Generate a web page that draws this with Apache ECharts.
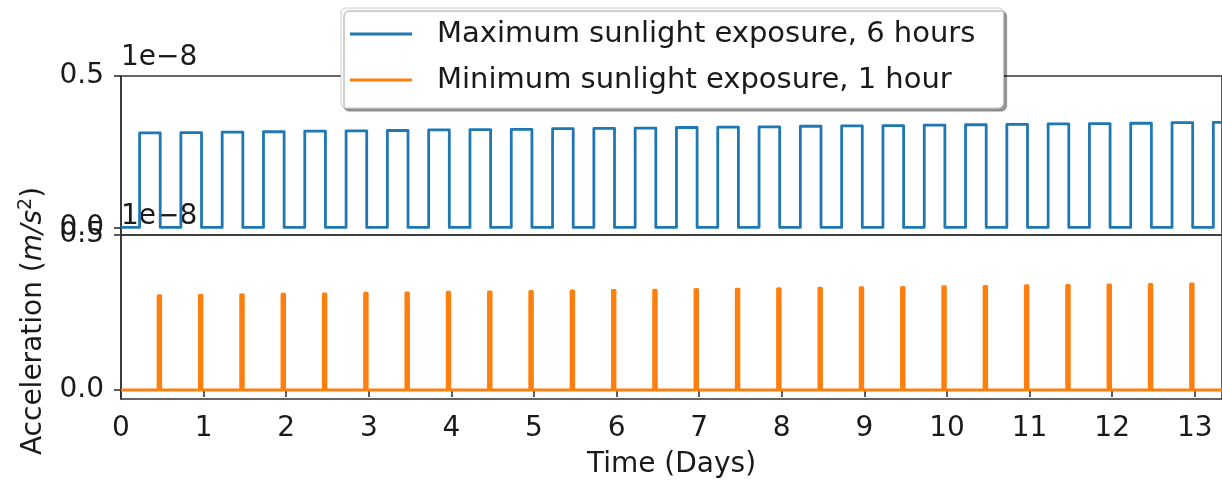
<!DOCTYPE html>
<html>
<head>
<meta charset="utf-8">
<script src="https://cdn.jsdelivr.net/npm/echarts@6/dist/echarts.min.js"></script>
<style>
    html, body { margin: 0; padding: 0; background: #fff; }
    #myChart { width: 1222px; height: 481px; }
</style>
</head>
<body>
<div id="myChart"></div>
<script>
    // 读图得到的数据：脉冲开始时间（天）和幅值（单位 1e-8 m/s^2）
    const seriesNames = ['Maximum sunlight exposure, 6 hours', 'Minimum sunlight exposure, 1 hour'];
    const maxOnTimes = [0.225, 0.725, 1.225, 1.725, 2.225, 2.725, 3.225, 3.725, 4.225, 4.725,
        5.225, 5.725, 6.225, 6.725, 7.225, 7.725, 8.225, 8.725, 9.225, 9.725,
        10.225, 10.725, 11.225, 11.725, 12.225, 12.725, 13.225];
    const maxHeights = [0.312, 0.313, 0.315, 0.316, 0.318, 0.319, 0.320, 0.322, 0.323, 0.324,
        0.326, 0.327, 0.328, 0.330, 0.331, 0.332, 0.334, 0.335, 0.336, 0.338,
        0.339, 0.340, 0.342, 0.343, 0.344, 0.346, 0.347];
    const maxDuration = 0.25;
    const minOnTimes = [0.45, 0.95, 1.45, 1.95, 2.45, 2.95, 3.45, 3.95, 4.45, 4.95,
        5.45, 5.95, 6.45, 6.95, 7.45, 7.95, 8.45, 8.95, 9.45, 9.95,
        10.45, 10.95, 11.45, 11.95, 12.45, 12.95];
    const minHeights = [0.304, 0.306, 0.307, 0.309, 0.310, 0.312, 0.313, 0.315, 0.316, 0.318,
        0.319, 0.321, 0.322, 0.324, 0.325, 0.327, 0.328, 0.330, 0.331, 0.333,
        0.334, 0.336, 0.337, 0.339, 0.340, 0.342];
    const minDuration = 0.03;
    const yTickValues = [0, 0.5];
    const xMax = 13.33;
    const dataEnd = 13.6;

    const font = 'DejaVu Sans';
    const textColor = '#1a1a1a';
    const spineColor = '#333';

    function pulseLine(onTimes, heights, duration) {
        let points = [[0, 0]];
        for (let i = 0; i < onTimes.length; i++) {
            points.push([onTimes[i], 0]);
            points.push([onTimes[i], heights[i]]);
            points.push([onTimes[i] + duration, heights[i]]);
            points.push([onTimes[i] + duration, 0]);
        }
        points.push([dataEnd, 0]);
        return points;
    }

    function yAxisOf(gridIndex, min) {
        return {
            type: 'value',
            gridIndex: gridIndex,
            min: min,
            max: 0.5,
            name: '1e\u22128',
            nameLocation: 'end',
            nameGap: 4,
            nameTextStyle: {
                fontFamily: font,
                fontSize: 28,
                color: textColor,
                align: 'left',
                verticalAlign: 'bottom'
            },
            axisLine: {show: true, lineStyle: {color: spineColor, width: 1.6}},
            axisTick: {show: true, length: 7, customValues: yTickValues, lineStyle: {color: spineColor, width: 1.6}},
            axisLabel: {
                customValues: yTickValues,
                margin: 17,
                fontFamily: font,
                fontSize: 28,
                color: textColor,
                formatter: v => v.toFixed(1)
            },
            splitLine: {show: false}
        };
    }

    let myChart = echarts.init(document.getElementById('myChart'));
    myChart.setOption({
        animation: false,
        backgroundColor: '#fff',
        grid: [
            {left: 121, right: -3, top: 76, height: 159, show: true, borderColor: spineColor, borderWidth: 1.6, backgroundColor: 'transparent'},
            {left: 121, right: -3, top: 235, height: 164, show: true, borderColor: spineColor, borderWidth: 1.6, backgroundColor: 'transparent'}
        ],
        legend: {
            left: 341,
            top: 8,
            orient: 'vertical',
            icon: 'rect',
            itemWidth: 62,
            itemHeight: 3,
            itemGap: 10,
            padding: [8, 28, 10, 9],
            backgroundColor: '#fff',
            borderColor: '#cccccc',
            borderWidth: 1,
            borderRadius: 5,
            shadowColor: 'rgba(0,0,0,0.4)',
            shadowBlur: 1,
            shadowOffsetX: 3,
            shadowOffsetY: 3,
            textStyle: {
                fontFamily: font,
                fontSize: 29,
                lineHeight: 36,
                color: textColor,
                padding: [0, 0, 0, 20]
            },
            data: seriesNames
        },
        graphic: [{
            type: 'text',
            x: 34,
            y: 321,
            rotation: Math.PI / 2,
            style: {
                text: '{n|Acceleration (}{i|m/s}{s|2}{n|)}',
                align: 'center',
                verticalAlign: 'middle',
                fill: textColor,
                rich: {
                    n: {fontFamily: font, fontSize: 28, lineHeight: 34, fill: textColor},
                    i: {fontFamily: font, fontSize: 28, fontStyle: 'italic', lineHeight: 34, fill: textColor},
                    s: {fontFamily: font, fontSize: 19, lineHeight: 34, verticalAlign: 'top', fill: textColor}
                }
            }
        }],
        xAxis: [
            {
                type: 'value', gridIndex: 0, min: 0, max: xMax, interval: 1,
                axisLine: {show: false}, axisTick: {show: false}, axisLabel: {show: false}, splitLine: {show: false}
            },
            {
                type: 'value', gridIndex: 1, min: 0, max: xMax, interval: 1,
                name: 'Time (Days)',
                nameLocation: 'middle',
                nameGap: 52,
                nameTextStyle: {fontFamily: font, fontSize: 28, color: textColor, verticalAlign: 'top'},
                axisLine: {show: true, lineStyle: {color: spineColor, width: 1.6}},
                axisTick: {show: true, length: 7, lineStyle: {color: spineColor, width: 1.6}},
                axisLabel: {margin: 16, fontFamily: font, fontSize: 28, color: textColor, showMaxLabel: false},
                splitLine: {show: false}
            }
        ],
        yAxis: [yAxisOf(0, -0.025), yAxisOf(1, -0.029)],
        series: [
            {
                name: seriesNames[0],
                type: 'line',
                xAxisIndex: 0,
                yAxisIndex: 0,
                data: pulseLine(maxOnTimes, maxHeights, maxDuration),
                symbol: 'none',
                color: '#1f77b4',
                lineStyle: {color: '#1f77b4', width: 2.8, join: 'round'}
            },
            {
                name: seriesNames[1],
                type: 'line',
                xAxisIndex: 1,
                yAxisIndex: 1,
                data: pulseLine(minOnTimes, minHeights, minDuration),
                symbol: 'none',
                color: '#ff7f0e',
                lineStyle: {color: '#ff7f0e', width: 3, join: 'round'}
            }
        ]
    });
</script>
</body>
</html>
